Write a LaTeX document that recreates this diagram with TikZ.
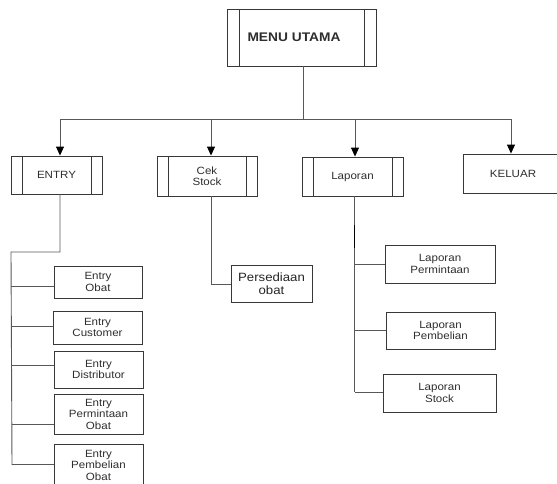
\documentclass[tikz,border=0pt]{standalone}
\usepackage{fontspec}
\setmainfont{Liberation Sans}[FakeStretch=1.1]
\usetikzlibrary{arrows.meta}
\definecolor{linegray}{HTML}{585858}
\definecolor{boxgray}{HTML}{383838}
\definecolor{txtgray}{HTML}{2E2E2E}
\tikzset{
  box/.style={draw=boxgray, line width=0.9pt, inner sep=0pt, align=center,
    text=txtgray, font=\fontsize{10.5}{11.5}\selectfont},
  subproc/.style={box, path picture={
      \draw[boxgray, line width=0.9pt]
        ([xshift=#1]path picture bounding box.north west) -- ([xshift=#1]path picture bounding box.south west)
        ([xshift=-#1]path picture bounding box.north east) -- ([xshift=-#1]path picture bounding box.south east);}},
  subproc/.default=11pt,
  conn/.style={draw=linegray, line width=0.9pt},
  arr/.style={conn, -{Triangle[width=8pt,length=9pt,fill=black,color=black]}},
}
\begin{document}
\begin{tikzpicture}[x=1pt,y=-1pt]
\useasboundingbox (0,0) rectangle (557,483);

% top
\node[subproc=12pt, minimum width=149pt, minimum height=57pt] (menu) at (301.5,37.5) {};
\node[text=txtgray, font=\bfseries\fontsize{12.5}{14}\selectfont] (menut) at (294,37) {MENU UTAMA};

% level 1
\node[subproc, minimum width=91pt, minimum height=38pt] (entry) at (56.5,175) {ENTRY};
\node[subproc, minimum width=100pt, minimum height=40pt] (cek) at (207,176) {Cek\\Stock};
\node[subproc, minimum width=101pt, minimum height=39pt] (lap) at (352.5,176.5) {Laporan};
\node[box, minimum width=100pt, minimum height=39pt] (kel) at (513,173.5) {KELUAR};

\coordinate (m) at (303,119);
\coordinate (j1) at (60,119);
\coordinate (j2) at (211,119);
\coordinate (j3) at (355,119);
\coordinate (j4) at (511,119);
\draw[conn] (m |- menu.south) -- (m);
\draw[conn] (j1) -- (j4);
\draw[arr] (j1) -- (j1 |- entry.north);
\draw[arr] (j2) -- (j2 |- cek.north);
\draw[arr] (j3) -- (j3 |- lap.north);
\draw[arr] (j4) -- (j4 |- kel.north);

% entry children
\node[box, minimum width=88pt, minimum height=32pt] (eo) at (98,282) {Entry\\Obat};
\node[box, minimum width=89pt, minimum height=33pt] (ec) at (97.5,327.5) {Entry\\Customer};
\node[box, minimum width=89pt, minimum height=37pt] (ed) at (98.5,369.5) {Entry\\Distributor};
\node[box, minimum width=89pt, minimum height=40pt] (ep) at (98.5,414) {Entry\\Permintaan\\Obat};
\node[box, minimum width=89pt, minimum height=42pt] (eb) at (98.5,465) {Entry\\Pembelian\\Obat};

\coordinate (e0) at (60,252);
\coordinate (ea) at (11,252);
\coordinate (ez) at (12,465);
\draw[conn] (e0 |- entry.south) -- (e0) -- (ea) -- (ez);
\coordinate (b1) at (11.2,286);
\coordinate (b2) at (11.4,326);
\coordinate (b3) at (11.6,365);
\coordinate (b4) at (11.8,424);
\coordinate (b5) at (12,464);
\draw[conn] (b1) -- (b1 -| eo.west);
\draw[conn] (b2) -- (b2 -| ec.west);
\draw[conn] (b3) -- (b3 -| ed.west);
\draw[conn] (b4) -- (b4 -| ep.west);
\draw[conn] (b5) -- (b5 -| eb.west);

% cek stock child
\node[box, minimum width=81pt, minimum height=37pt, font=\fontsize{12}{13}\selectfont, text=black!85] (pers) at (271.5,283.5) {Persediaan\\obat};
\coordinate (c1) at (211,284);
\draw[conn] (c1 |- cek.south) -- (c1) -- (c1 -| pers.west);

% laporan children
\node[box, minimum width=110pt, minimum height=38pt] (lp) at (440,264) {Laporan\\Permintaan};
\node[box, minimum width=109pt, minimum height=37pt] (lb) at (440.5,330.5) {Laporan\\Pembelian};
\node[box, minimum width=113pt, minimum height=38pt] (ls) at (439.5,393) {Laporan\\Stock};

\coordinate (l1) at (354.5,264);
\coordinate (l2) at (354.5,330);
\coordinate (l3) at (354.5,392);
\draw[conn] (l1 |- lap.south) -- (l3);
\draw[black, line width=1.6pt] (354.5,225) -- (354.5,248);
\draw[conn] (l1) -- (l1 -| lp.west);
\draw[conn] (l2) -- (l2 -| lb.west);
\draw[conn] (l3) -- (l3 -| ls.west);
\end{tikzpicture}
\end{document}
